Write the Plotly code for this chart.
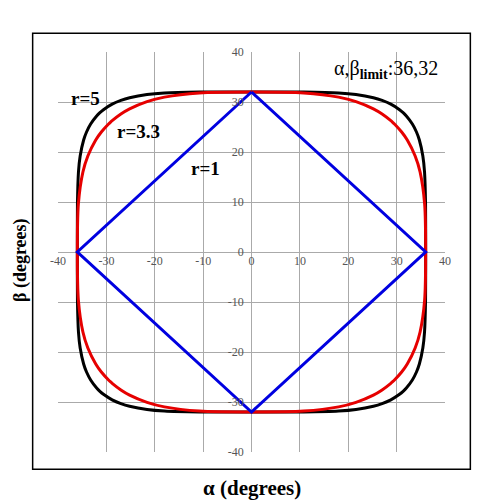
import plotly.graph_objects as go

# First-quadrant points (degrees), mirrored to the other quadrants
alpha_r5 = [0, 10.8, 18, 21.6, 25.2, 27, 28.8, 30.6, 31.34, 32.01, 33.25, 34.10, 34.70, 35.42, 35.77, 35.98, 36]
beta_r5 = [32, 31.98, 31.80, 31.49, 30.84, 30.31, 29.56, 28.46, 27.86, 27.2, 25.6, 24.0, 22.4, 19.2, 16.0, 9.6, 0]

alpha_r33 = [0, 10.8, 18, 21.6, 25.2, 27, 28.8, 29.18, 29.55, 31.04, 32.20, 33.83, 34.85, 35.79, 36]
beta_r33 = [32, 31.82, 30.98, 30.07, 28.62, 27.59, 26.26, 25.94, 25.6, 24, 22.4, 19.2, 16, 9.6, 0]

alpha_r1 = [0, 36]
beta_r1 = [32, 0]

tick_vals = [-40, -30, -20, -10, 0, 10, 20, 30, 40]
tick_text = ["-40", "-30", "-20", "-10", "0", "10", "20", "30", "40"]


def closed(ax, by):
    xs = list(ax) + [a for a in reversed(ax)][1:] + [-a for a in ax][1:] + [-a for a in reversed(ax)][1:]
    ys = list(by) + [-b for b in reversed(by)][1:] + [-b for b in by][1:] + [b for b in reversed(by)][1:]
    return xs, ys


fig = go.Figure()
for ax, by, col in [(alpha_r5, beta_r5, "#000000"), (alpha_r33, beta_r33, "#e60000"), (alpha_r1, beta_r1, "#0000e0")]:
    xs, ys = closed(ax, by)
    fig.add_trace(go.Scatter(x=xs, y=ys, mode="lines",
                             line=dict(color=col, width=3, shape="spline" if len(ax) > 2 else "linear", smoothing=0.6),
                             showlegend=False, hoverinfo="skip"))

axis_common = dict(range=[-40, 40], tickvals=tick_vals, ticktext=tick_text, showgrid=True,
                   gridcolor="#aaaaaa", gridwidth=1, zeroline=True, zerolinecolor="#aaaaaa",
                   zerolinewidth=1, showline=False, ticks="", anchor="free",
                   tickfont=dict(family="Liberation Serif", size=12, color="#555555"))

fig.update_layout(
    width=488, height=496,
    margin=dict(l=50, r=51, t=44, b=52),
    paper_bgcolor="white", plot_bgcolor="white",
    xaxis=dict(**axis_common, side="bottom", position=0.5),
    yaxis=dict(**axis_common, side="left", position=0.48),
    font=dict(family="Liberation Serif"),
)

fig.add_shape(type="rect", xref="paper", yref="paper", x0=-0.0655, x1=1.0655, y0=-0.0433, y1=1.0468,
              line=dict(color="black", width=1.5), fillcolor="rgba(0,0,0,0)", layer="below")

anns = [
    dict(x=-34.3, y=30.8, text="<b>r=5</b>", size=19),
    dict(x=-23.3, y=24.1, text="<b>r=3.3</b>", size=19),
    dict(x=-9.6, y=16.7, text="<b>r=1</b>", size=19),
    dict(x=27.7, y=36.5, text="α,β<sub><b>limit</b></sub>:36,32", size=20),
]
for a in anns:
    fig.add_annotation(x=a["x"], y=a["y"], xref="x", yref="y", text=a["text"], showarrow=False,
                       font=dict(family="Liberation Serif", size=a["size"], color="black"))

fig.add_annotation(x=0.5, y=-0.091, xref="paper", yref="paper", text="<b>α (degrees)</b>", showarrow=False,
                   font=dict(family="Liberation Serif", size=21, color="black"), yanchor="middle")
fig.add_annotation(x=-0.098, y=0.48, xref="paper", yref="paper", text="<b>β (degrees)</b>", showarrow=False,
                   textangle=-90, font=dict(family="Liberation Serif", size=18, color="black"), xanchor="center")

fig.write_html("out.html")
